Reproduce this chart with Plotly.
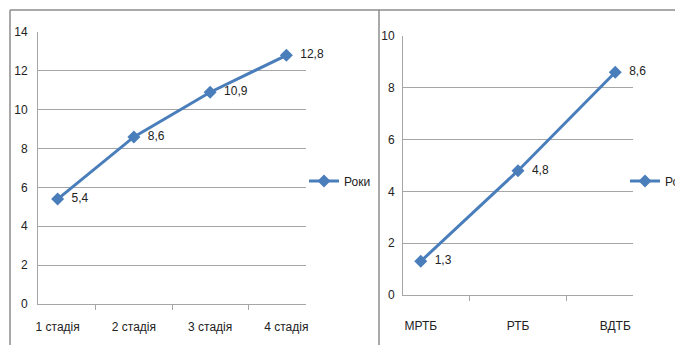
import plotly.graph_objects as go

cats_left = ["1 стадія", "2 стадія", "3 стадія", "4 стадія"]
vals_left = [5.4, 8.6, 10.9, 12.8]
cats_right = ["МРТБ", "РТБ", "ВДТБ"]
vals_right = [1.3, 4.8, 8.6]
series_name = "Роки"

W, H = 683, 345
OFF = 8  # page body margin
FONT = "Liberation Sans Narrow, Liberation Sans, Arial, sans-serif"
FS = 12
BLUE = "#4a7ebb"
GRID = "#a6a6a6"

def fmt(v):
    return f"{v}".replace(".", ",")

def px(x):
    return (x - OFF) / W

def py(y):
    return 1 - (y - OFF) / H

fig = go.Figure()
fig.add_trace(go.Scatter(
    x=cats_left, y=vals_left, mode="lines+markers+text", name=series_name,
    text=["  " + fmt(v) for v in vals_left], textposition="middle right",
    textfont=dict(size=FS, color="#222", family=FONT),
    line=dict(color=BLUE, width=3), marker=dict(symbol="diamond", size=10, color=BLUE),
    xaxis="x", yaxis="y", legend="legend", showlegend=True, cliponaxis=False))
fig.add_trace(go.Scatter(
    x=cats_right, y=vals_right, mode="lines+markers+text", name=series_name,
    text=["  " + fmt(v) for v in vals_right], textposition="middle right",
    textfont=dict(size=FS, color="#222", family=FONT),
    line=dict(color=BLUE, width=3), marker=dict(symbol="diamond", size=10, color=BLUE),
    xaxis="x2", yaxis="y2", legend="legend2", showlegend=True, cliponaxis=False))

common_x = dict(type="category", showgrid=False, showline=True, linecolor=GRID, linewidth=1,
                ticks="outside", tickson="boundaries", ticklen=5, tickcolor=GRID,
                tickfont=dict(size=FS, family=FONT, color="#222"), zeroline=False,
                automargin=False)
common_y = dict(showgrid=True, gridcolor=GRID, gridwidth=1, showline=True, linecolor=GRID,
                linewidth=1, ticks="", dtick=2, zeroline=False, automargin=False,
                tickfont=dict(size=FS, family=FONT, color="#222"))

fig.update_layout(
    width=W, height=H, margin=dict(l=0, r=0, t=0, b=0, autoexpand=False),
    paper_bgcolor="white", plot_bgcolor="white", showlegend=True,
    font=dict(family=FONT, size=FS, color="#222"),
    xaxis=dict(domain=[px(38), px(306)], anchor="y", ticklabelstandoff=12, **common_x),
    yaxis=dict(domain=[py(304), py(32)], anchor="x", range=[0, 14], ticklabelstandoff=7,
               **common_y),
    xaxis2=dict(domain=[px(403), px(633)], anchor="y2", ticklabelstandoff=20, **common_x),
    yaxis2=dict(domain=[py(295), py(36)], anchor="x2", range=[0, 10], ticklabelstandoff=5,
                **common_y),
    legend=dict(x=px(304), y=py(181), xanchor="left", yanchor="middle", visible=True,
                bgcolor="rgba(0,0,0,0)", font=dict(size=FS, family=FONT), itemwidth=30),
    legend2=dict(x=px(625), y=py(181), xanchor="left", yanchor="middle", visible=True,
                 bgcolor="rgba(0,0,0,0)", font=dict(size=FS, family=FONT), itemwidth=30),
    shapes=[
        dict(type="line", xref="paper", yref="paper", x0=px(10), x1=px(10), y0=0, y1=py(10),
             line=dict(color="#8c8c8c", width=1.5)),
        dict(type="line", xref="paper", yref="paper", x0=px(10), x1=1, y0=py(10), y1=py(10),
             line=dict(color="#8c8c8c", width=1.5)),
        dict(type="line", xref="paper", yref="paper", x0=px(379), x1=px(379), y0=0, y1=py(10),
             line=dict(color="#8c8c8c", width=1.5)),
    ],
)

fig.write_html("out.html")
